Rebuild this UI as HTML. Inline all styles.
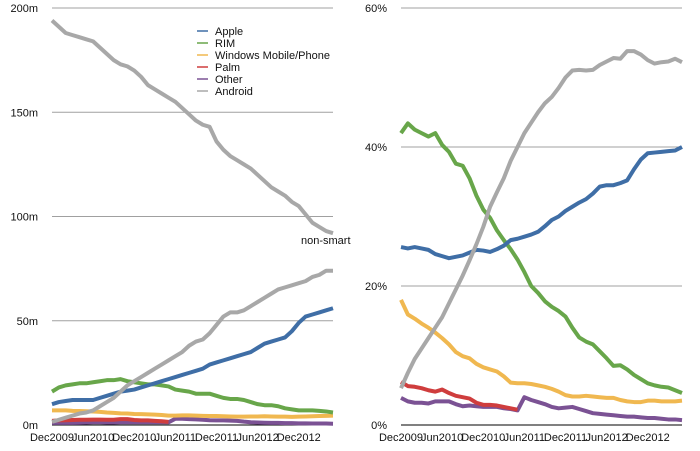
<!DOCTYPE html>
<html><head><meta charset="utf-8"><style>
body{margin:0;background:#fff;}
svg{display:block;font-family:"Liberation Sans",sans-serif;}
</style></head><body>
<svg id="c" width="700" height="451"></svg>
<script>
const months=42;
const xTickIdx=[0,6,12,18,24,30,36];
const xTickLabels=["Dec2009","Jun2010","Dec2010","Jun2011","Dec2011","Jun2012","Dec2012"];
const leftTicks=[0,50,100,150,200];
const leftTickLabels=["0m","50m","100m","150m","200m"];
const rightTicks=[0,20,40,60];
const rightTickLabels=["0%","20%","40%","60%"];
const seriesNames=["Apple","RIM","Windows Mobile/Phone","Palm","Other","Android"];
const colors=["#3f6ea6","#68a64a","#f0b850","#cf3d3d","#7b5294","#a8a8a8"];
const nonSmart=[194,191,188,187,186,185,184,181,178,175,173,172,170,167,163,161,159,157,155,152,149,146,144,143,136,132,129,127,125,123,120,117,114,112,110,107,105,101,97,95,93,92];
const appleM=[10,11,11.5,12,12,12,12,13,14,15,16,16.5,17,18,19,20,21,22,23,24,25,26,27,29,30,31,32,33,34,35,37,39,40,41,42,45,49,52,53,54,55,56];
const rimM=[16,18,19,19.5,20,20,20.5,21,21.5,21.5,22,21,20.5,20,19.5,19.5,19,18.5,17,16.5,16,15,15,15,14,13,12.5,12.5,12,11,10,9.5,9.5,9,8,7.5,7,7,7,6.8,6.5,6];
const winM=[7,7,7,6.8,6.7,6.6,6.5,6.3,6,5.8,5.6,5.5,5.3,5.2,5.1,5,4.8,4.5,4.5,4.6,4.6,4.5,4.4,4.3,4.3,4.2,4.1,4,4,4.1,4.1,4.2,4.1,4,4,3.9,4,4.1,4.2,4.3,4.4,4.5];
const palmM=[2,2.2,2.3,2.4,2.5,2.5,2.6,2.6,2.5,2.5,2.8,2.8,2.4,2.2,2.2,2,1.8,1.5];
const otherM=[1,1,1,1,1.1,1.2,1.3,1.3,1.2,1.2,1.3,1.3,1.3,1.3,1.3,1.3,1.3,1.3,3,3,2.8,2.7,2.5,2.3,2.2,2.2,2.1,2,1.6,1.3,1.2,1.1,1,1,0.9,0.9,0.8,0.8,0.7,0.7,0.7,0.6];
const androidM=[1.5,2.5,3.5,4.5,5.5,6,7,9,11,13,16,19,21,23,25,27,29,31,33,35,38,40,41,44,48,52,54,54,55,57,59,61,63,65,66,67,68,69,71,72,74,74];
const appleP=[25.6,25.4,25.6,25.4,25.2,24.6,24.3,24,24.2,24.4,24.8,25.2,25.1,24.9,25.3,25.8,26.6,26.8,27.1,27.4,27.8,28.6,29.5,30,30.8,31.4,32,32.5,33.3,34.3,34.5,34.5,34.8,35.2,36.8,38.2,39.1,39.2,39.3,39.4,39.5,40];
const rimP=[42,43.4,42.5,42,41.5,42,40.3,39.3,37.6,37.3,35.5,33,31,29.8,28,26.6,25.3,23.8,22,20,19,17.8,17,16.4,15.6,14,12.6,12,11.6,10.6,9.6,8.5,8.6,8,7.2,6.6,6,5.7,5.5,5.4,5,4.6];
const winP=[18,15.9,15.3,14.6,14,13.3,12.5,11.6,10.5,9.9,9.6,8.8,8.3,8,7.7,7,6.1,6,6,5.9,5.7,5.5,5.2,4.8,4.3,4.1,4.1,4.2,4.1,4,3.9,3.9,3.6,3.4,3.3,3.3,3.5,3.5,3.4,3.4,3.4,3.5];
const palmP=[6.2,5.6,5.5,5.3,5,4.8,5.1,4.6,4.2,4,3.8,3.2,2.9,2.9,2.8,2.6,2.4,2.2];
const otherP=[3.9,3.4,3.2,3.2,3.1,3.4,3.4,3.4,3,2.7,2.8,2.7,2.6,2.6,2.6,2.4,2.3,2.1,4,3.6,3.3,3,2.6,2.4,2.5,2.6,2.3,2,1.7,1.6,1.5,1.4,1.3,1.2,1.2,1.1,1,1,0.9,0.8,0.8,0.7];
const androidP=[5.3,7.5,9.5,11,12.5,14,15.5,17.5,19.5,21.5,23.7,26,28.5,31.4,33.5,35.5,38,40,42,43.5,45,46.3,47.2,48.5,50,51,51.1,51,51.1,51.8,52.3,52.8,52.7,53.8,53.8,53.3,52.5,52,52.2,52.3,52.7,52.2];

const NS="http://www.w3.org/2000/svg";
const svg=document.getElementById('c');
function mk(t,a,p){const e=document.createElementNS(NS,t);for(const k in a)e.setAttribute(k,a[k]);(p||svg).appendChild(e);return e;}
const Y0=425,Y1=8;
function panel(key,x0,x1,maxV,ticks,labels,series,extra){
  const g=mk('g',{});
  
  
  const xs=i=>x0+i*(x1-x0)/(months-1);
  const ys=v=>Y0-v*(Y0-Y1)/maxV;
  ticks.forEach((t,k)=>{
    const ln=mk('line',{x1:x0,x2:x1,y1:ys(t),y2:ys(t),stroke:t===0?'#000':'#a0a0a0','stroke-width':1},g);
    
    
    const tx=mk('text',{x:x0-14,y:ys(t)+4,'text-anchor':'end','font-size':11,fill:'#111'},g);
    tx.textContent=labels[k];
    
    
  });
  xTickIdx.forEach((idx,k)=>{
    const tx=mk('text',{x:xs(idx),y:441,'text-anchor':'middle','font-size':11,fill:'#111'},g);
    tx.textContent=xTickLabels[k];
    
    
  });
  const order=[4,3,2,1,0,5];
  if(extra){
    const p=mk('polyline',{points:extra.map((v,i)=>xs(i)+','+ys(v)).join(' '),fill:'none',stroke:colors[5],'stroke-width':4,'stroke-linejoin':'round'},g);
    
    
  }
  order.forEach(s=>{
    const d=series[s];
    const p=mk('polyline',{points:d.map((v,i)=>xs(i)+','+ys(v)).join(' '),fill:'none',stroke:colors[s],'stroke-width':4,'stroke-linejoin':'round'},g);
    
    
  });
}
panel('units',52,333,200,leftTicks,leftTickLabels,[appleM,rimM,winM,palmM,otherM,androidM],nonSmart);
panel('share',401,682,60,rightTicks,rightTickLabels,[appleP,rimP,winP,palmP,otherP,androidP],null);
const ns=mk('text',{x:301,y:244,'font-size':11,fill:'#111'});
ns.textContent='non-smart';


const lg=mk('g',{});


seriesNames.forEach((n,k)=>{
  const y=31+k*12;
  const l=mk('line',{x1:197,x2:208,y1:y,y2:y,stroke:colors[k],'stroke-width':1.5},lg);
  
  
  const t=mk('text',{x:215,y:y+4,'font-size':11,fill:'#111'},lg);
  t.textContent=n;
  
  
});
</script>
</body></html>
